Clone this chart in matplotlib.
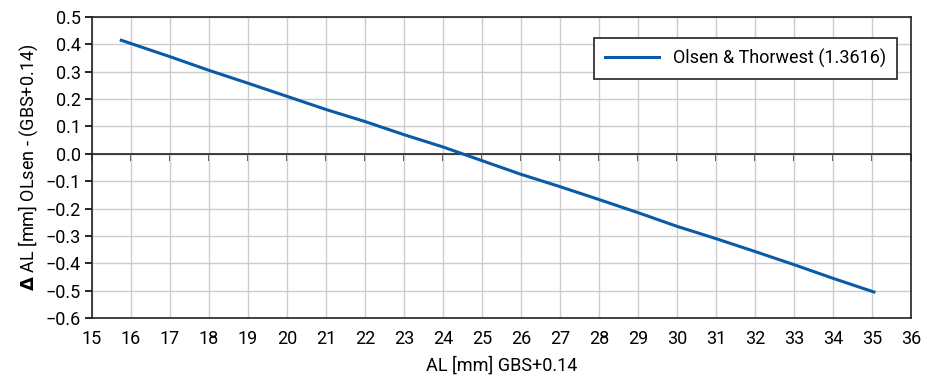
import numpy as np
import matplotlib.pyplot as plt

plt.rcParams['font.family'] = ['Roboto', 'DejaVu Sans']

# values
al_gbs = [15.75, 17, 18, 19, 20, 21, 22, 23, 24, 25, 26, 27, 28, 29, 30, 31, 32, 33, 34, 35.05]
delta_al = [0.415, 0.355, 0.305, 0.258, 0.21, 0.162, 0.118, 0.07, 0.025, -0.025, -0.075,
            -0.12, -0.167, -0.215, -0.265, -0.31, -0.357, -0.405, -0.455, -0.505]
series_name = 'Olsen & Thorwest (1.3616)'

fig = plt.figure(figsize=(9.28, 3.82), dpi=100)
ax = fig.add_axes([92 / 928, 1 - 318 / 382, 819 / 928, 301 / 382])

ax.axhline(0, color='#222222', lw=1.2, zorder=1.5)
ax.plot(al_gbs, delta_al, color='#0b5aa8', lw=2.2, label=series_name, zorder=3)

ax.set_xlim(15, 36)
ax.set_ylim(-0.6, 0.5)
ax.set_xticks(np.arange(15, 37, 1))
ax.set_yticks(np.round(np.arange(-0.6, 0.51, 0.1), 1))
ax.yaxis.set_major_formatter(
    plt.FuncFormatter(lambda v, p: f'{round(v, 1) + 0.0:.1f}'.replace('-', '\u2212')))
ax.grid(True, color='#cccccc', lw=1)
ax.set_axisbelow(True)

for s in ax.spines.values():
    s.set_color('#222222')
    s.set_linewidth(1.2)

ax.tick_params(axis='x', length=0, pad=9, labelsize=13)
ax.tick_params(axis='y', direction='out', length=5, width=1.2, labelsize=13, pad=3)

# x tick marks sit on the zero line, pointing down
zero = ax.secondary_xaxis(0.6 / 1.1)
zero.xaxis.set_ticks_position('bottom')
zero.set_xticks(np.arange(15, 37, 1))
zero.set_xticklabels([])
zero.tick_params(axis='x', which='both', direction='out', length=5, width=1.2,
                 color='#222222', labelbottom=False, labeltop=False)

ax.set_xlabel('AL [mm] GBS+0.14', fontsize=13, labelpad=6)
ax.set_ylabel(r'$\mathbf{\Delta}$ AL [mm] OLsen - (GBS+0.14)', fontsize=13, labelpad=4)

leg = ax.legend(loc='upper right', bbox_to_anchor=(0.983, 0.93), fontsize=13, fancybox=False,
                framealpha=1, edgecolor='#222222', handlelength=3, borderpad=0.6,
                borderaxespad=0)
leg.get_frame().set_linewidth(1.2)

fig.savefig('out.png', dpi=100)
